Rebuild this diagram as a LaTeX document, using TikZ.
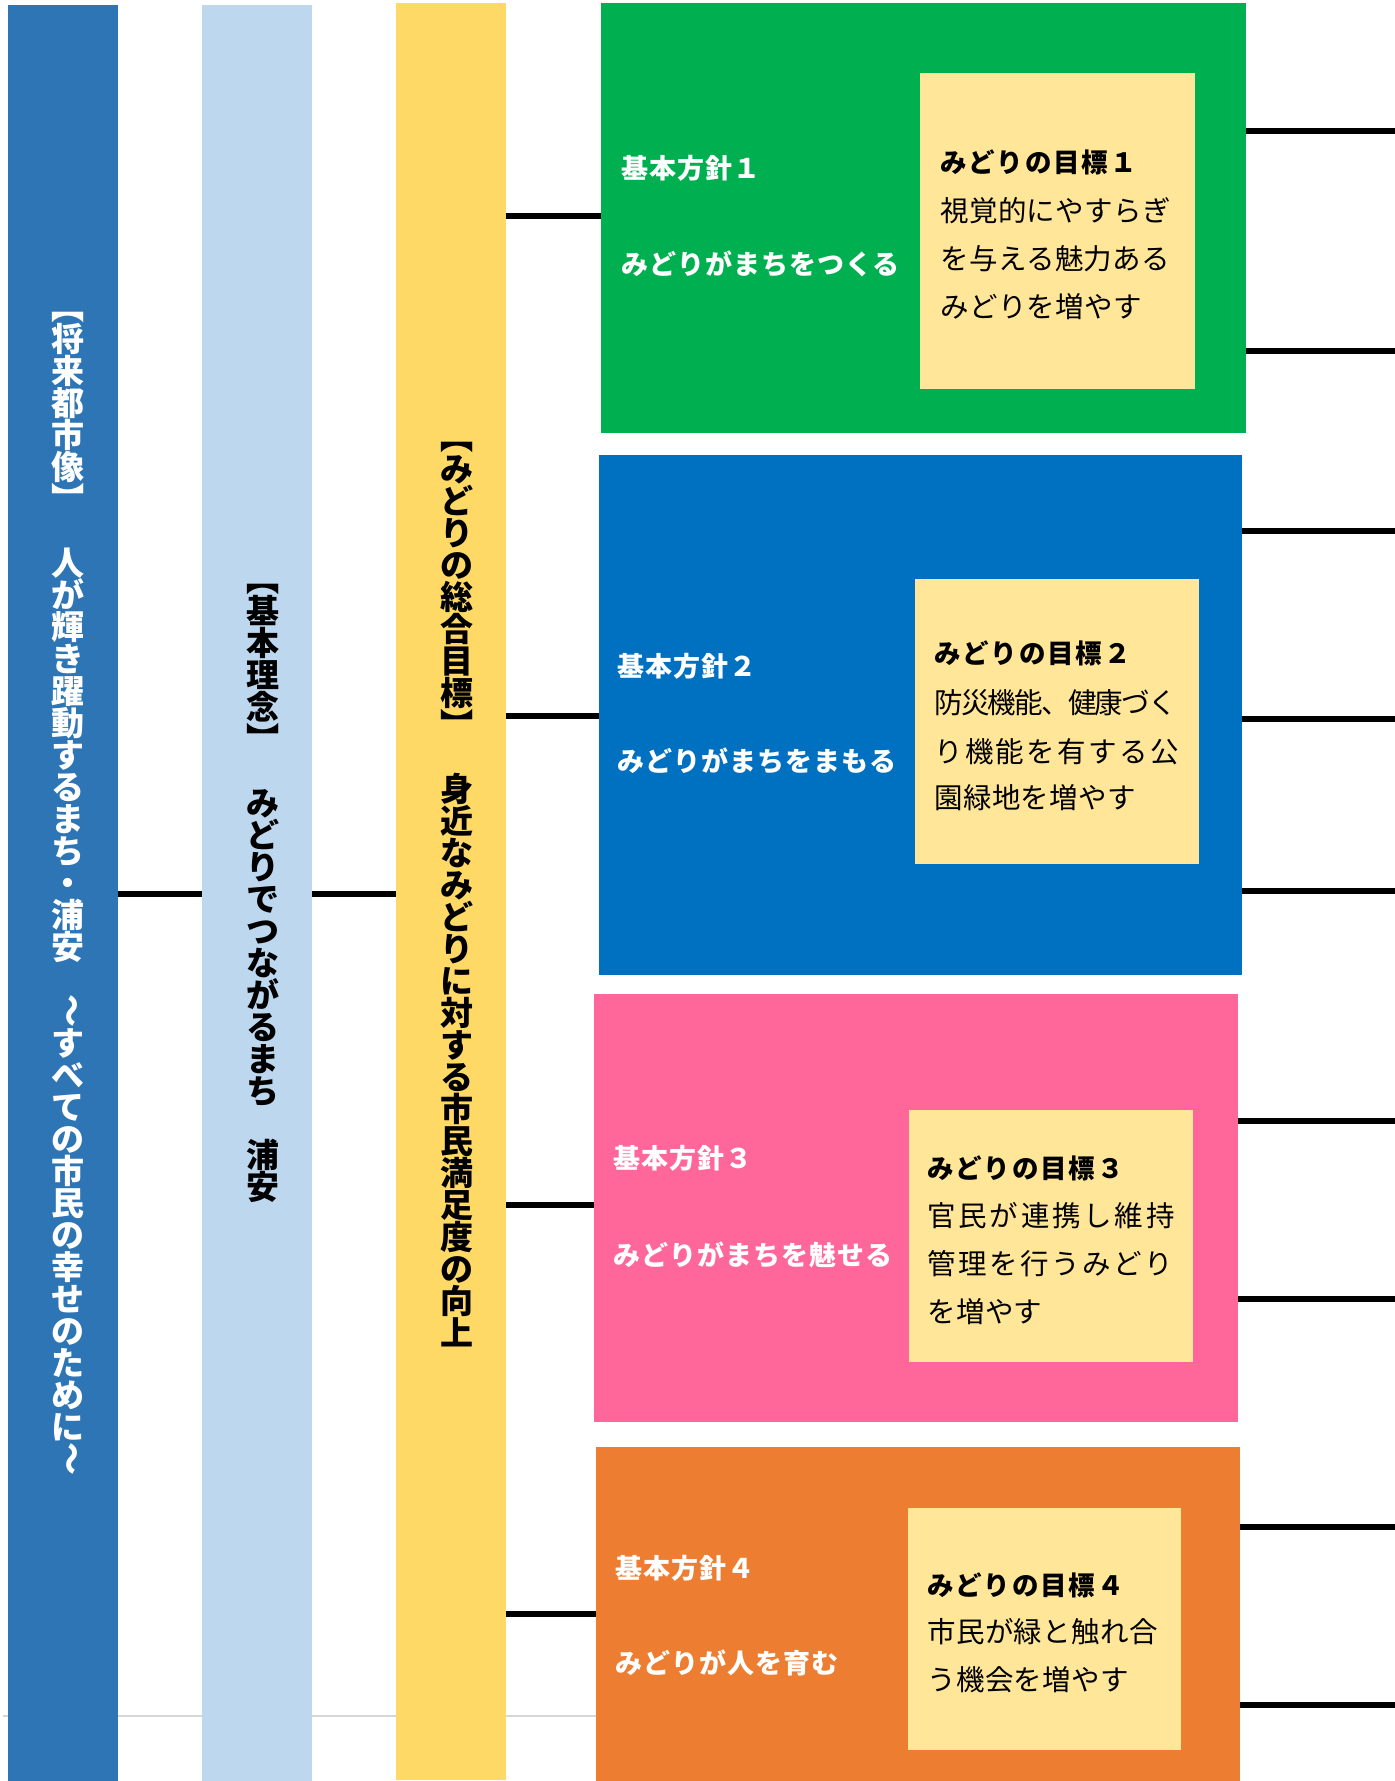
\documentclass[tikz,border=0pt]{standalone}
\usepackage{fontspec}
\usepackage{graphicx}
\newfontfamily\jp{Noto Sans CJK JP}
\definecolor{cA}{HTML}{2E75B6}
\definecolor{cB}{HTML}{BDD7EE}
\definecolor{cC}{HTML}{FFD966}
\definecolor{cG}{HTML}{00B050}
\definecolor{cBl}{HTML}{0070C0}
\definecolor{cP}{HTML}{FF6699}
\definecolor{cO}{HTML}{ED7D31}
\definecolor{cI}{HTML}{FFE699}
\makeatletter
\newcommand\tatecell[1]{\hbox to 1em{\hss\smash{#1}\hss\vrule height \dimexpr16pt+.38em\relax depth \dimexpr16pt-.38em\relax width 0pt}}
\newcommand\tate[1]{\vbox{\offinterlineskip\@tfor\tate@c:=#1\do{\tatecell{\tate@c}}}}
\newcommand\rb[1]{\raisebox{.88em}{\rotatebox{-90}{#1}}}
\makeatother
\tikzset{
  rect/.style n args={3}{fill=#1, draw=none, minimum width=#2, minimum height=#3, anchor=north west, inner sep=0pt, outer sep=0pt},
  vt/.style={anchor=north, inner sep=0pt, font=\jp\bfseries\fontsize{33}{33}\selectfont},
  lbl/.style={anchor=west, inner sep=0pt, text=white, text height=23.8pt, text depth=3.2pt,
    font=\jp\bfseries\fontsize{27}{27}\selectfont\addfontfeatures{LetterSpace=3.7}},
  hd/.style={anchor=west, inner sep=0pt, text=black, text height=23.3pt, text depth=3.2pt,
    font=\jp\bfseries\fontsize{26.5}{26.5}\selectfont\addfontfeatures{LetterSpace=7}},
  bd/.style={anchor=west, inner sep=0pt, text=black, text height=25.1pt, text depth=3.4pt,
    font=\jp\fontsize{28.5}{28.5}\selectfont\addfontfeatures{LetterSpace=#1}},
  bd/.default=1.5,
  link/.style={line width=6pt, draw=black},
}
\begin{document}
\begin{tikzpicture}[x=1pt,y=-1pt]
\useasboundingbox (0,0) rectangle (1395,1781);
\fill[white] (0,0) rectangle (1395,1781);
\draw[line width=1.5pt, draw=black!16] (3,1716) -- (600,1716);
% columns
\node[rect={cA}{110pt}{1776pt}] (col1) at (8,5) {};
\node[rect={cB}{110pt}{1776pt}] (col2) at (202,5) {};
\node[rect={cC}{110pt}{1777pt}] (col3) at (396,3) {};
% boxes
\node[rect={cG}{645pt}{430pt}] (g) at (601,3) {};
\node[rect={cBl}{643pt}{520pt}] (b) at (599,455) {};
\node[rect={cP}{644pt}{428pt}] (p) at (594,994) {};
\node[rect={cO}{644pt}{334pt}] (o) at (596,1447) {};
\node[rect={cI}{275pt}{316pt}] (gi) at (920,73) {};
\node[rect={cI}{284pt}{285pt}] (bi) at (915,579) {};
\node[rect={cI}{284pt}{252pt}] (pi) at (909,1110) {};
\node[rect={cI}{273pt}{242pt}] (oi) at (908,1508) {};
% vertical texts
\node[vt, text=white] (t1) at (68,291) {\tate{{\rb【}将来都市像{\rb】}　人が輝き躍動するまち・浦安　{\rb～}すべての市民の幸せのために{\rb～}}};
\node[vt, text=black] (t2) at (263,563) {\tate{{\rb【}基本理念{\rb】}　みどりでつながるまち　浦安}};
\node[vt, text=black] (t3) at (457,421) {\tate{{\rb【}みどりの総合目標{\rb】}　身近なみどりに対する市民満足度の向上}};
% connectors
\coordinate (hA) at (0,894);
\draw[link] (col1.east |- hA) -- (col2.west |- hA);
\draw[link] (col2.east |- hA) -- (col3.west |- hA);
\coordinate (hg) at (0,216);
\coordinate (hb) at (0,716);
\coordinate (hp) at (0,1205);
\coordinate (ho) at (0,1614);
\draw[link] (col3.east |- hg) -- (g.west |- hg);
\draw[link] (col3.east |- hb) -- (b.west |- hb);
\draw[link] (col3.east |- hp) -- (p.west |- hp);
\draw[link] (col3.east |- ho) -- (o.west |- ho);
% right free ends
\coordinate (rg1) at (1395,131);
\coordinate (rg2) at (1395,351);
\coordinate (rb1) at (1395,531);
\coordinate (rb2) at (1395,719);
\coordinate (rb3) at (1395,891);
\coordinate (rp1) at (1395,1121);
\coordinate (rp2) at (1395,1299);
\coordinate (ro1) at (1395,1527);
\coordinate (ro2) at (1395,1705);
\draw[link] (g.east |- rg1) -- (rg1);
\draw[link] (g.east |- rg2) -- (rg2);
\draw[link] (b.east |- rb1) -- (rb1);
\draw[link] (b.east |- rb2) -- (rb2);
\draw[link] (b.east |- rb3) -- (rb3);
\draw[link] (p.east |- rp1) -- (rp1);
\draw[link] (p.east |- rp2) -- (rp2);
\draw[link] (o.east |- ro1) -- (ro1);
\draw[link] (o.east |- ro2) -- (ro2);
% green texts
\node[lbl] (g1a) at (621,168) {基本方針１};
\node[lbl] (g1b) at (621,264) {みどりがまちをつくる};
\node[hd] (g1h) at (940,162) {みどりの目標１};
\node[bd] (g1l1) at (940,211) {視覚的にやすらぎ};
\node[bd] (g1l2) at (940,259) {を与える魅力ある};
\node[bd] (g1l3) at (940,307) {みどりを増やす};
% blue texts
\node[lbl] (b1a) at (617,666) {基本方針２};
\node[lbl] (b1b) at (617,761) {みどりがまちをまもる};
\node[hd] (b1h) at (934,653) {みどりの目標２};
\node[bd=-6] (b1l1) at (934,703) {防災機能、健康づく};
\node[bd=8.4] (b1l2) at (934,752) {り機能を有する公};
\node[bd] (b1l3) at (934,798) {園緑地を増やす};
% pink texts
\node[lbl] (p1a) at (613,1158) {基本方針３};
\node[lbl] (p1b) at (613,1255) {みどりがまちを魅せる};
\node[hd] (p1h) at (927,1168) {みどりの目標３};
\node[bd=9.8] (p1l1) at (927,1216) {官民が連携し維持};
\node[bd=9.1] (p1l2) at (927,1264) {管理を行うみどり};
\node[bd] (p1l3) at (927,1312) {を増やす};
% orange texts
\node[lbl] (o1a) at (615,1568) {基本方針４};
\node[lbl] (o1b) at (615,1663) {みどりが人を育む};
\node[hd] (o1h) at (927,1585) {みどりの目標４};
\node[bd] (o1l1) at (927,1632) {市民が緑と触れ合};
\node[bd] (o1l2) at (927,1680) {う機会を増やす};
\end{tikzpicture}
\end{document}
